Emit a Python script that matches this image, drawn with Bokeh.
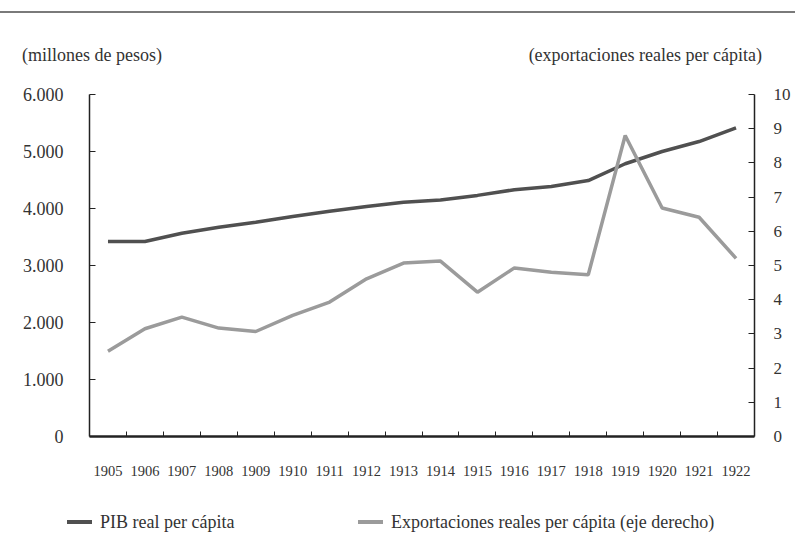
from bokeh.plotting import figure
from bokeh.layouts import column
from bokeh.models import Range1d, LinearAxis, FixedTicker, ColumnDataSource, Div
from bokeh.embed import file_html
from bokeh.resources import INLINE

years = list(range(1905, 1923))
pib = [3420, 3420, 3565, 3670, 3760, 3860, 3950, 4035, 4110, 4150,
       4230, 4330, 4385, 4490, 4785, 5000, 5175, 5415]
exports = [2.49, 3.15, 3.49, 3.17, 3.07, 3.54, 3.93, 4.61, 5.07, 5.13,
           4.22, 4.93, 4.80, 4.73, 8.80, 6.68, 6.41, 5.21]
left_ticks = [0, 1000, 2000, 3000, 4000, 5000, 6000]
left_tick_labels = ["0", "1.000", "2.000", "3.000", "4.000", "5.000", "6.000"]
right_ticks = [0, 1, 2, 3, 4, 5, 6, 7, 8, 9, 10]
series_names = ["PIB real per cápita", "Exportaciones reales per cápita (eje derecho)"]
left_title = "(millones de pesos)"
right_title = "(exportaciones reales per cápita)"

FONT = "Liberation Serif"
TXT = "#333333"
DARK = "#505050"
LIGHT = "#9b9b9b"
W, H = 795, 535
TOP_H = 70
FL, FR, FT, FB = 89, 41, 24, 56
FH = 342
MAIN_H = FT + FH + FB
LEG_H = H - TOP_H - MAIN_H

# ---- header: rule + axis titles
title_y = 55 - 11  # top of a 22px-high line box centred at y=55
header = Div(width=W, height=TOP_H, margin=0, text=(
    f'<div style="position:relative;width:{W}px;height:{TOP_H}px;'
    f'font-family:\'{FONT}\';color:{TXT};font-size:18px;line-height:22px;">'
    f'<div style="position:absolute;left:0;top:10.5px;width:{W}px;height:2.5px;background:#7a7a7a;"></div>'
    f'<div style="position:absolute;left:22px;top:{title_y}px;white-space:nowrap;">{left_title}</div>'
    f'<div style="position:absolute;right:{W - 762}px;top:{title_y}px;white-space:nowrap;">{right_title}</div>'
    f'</div>'))

# ---- main chart
src = ColumnDataSource(dict(year=years, pib=pib, exp=exports))
p = figure(width=W, height=MAIN_H, output_backend="svg", toolbar_location=None,
           x_range=Range1d(years[0] - 0.5, years[-1] + 0.5),
           y_range=Range1d(0, 6000),
           min_border_left=FL, min_border_right=FR, min_border_top=FT, min_border_bottom=FB)
p.outline_line_color = None
p.grid.visible = False
p.extra_y_ranges = {"right": Range1d(0, 10)}

xa = p.xaxis[0]
xa.ticker = FixedTicker(ticks=years, minor_ticks=[y + 0.5 for y in years[:-1]])
xa.major_tick_in = 0
xa.major_tick_out = 0
xa.minor_tick_in = 5
xa.minor_tick_out = 0
xa.minor_tick_line_color = "#222222"
xa.axis_line_width = 2.5
xa.axis_line_color = "#222222"
xa.major_label_standoff = 29
xa.major_label_text_font = FONT
xa.major_label_text_font_size = "14.5px"
xa.major_label_text_color = TXT

ya = p.yaxis[0]
ya.ticker = FixedTicker(ticks=left_ticks, minor_ticks=[])
ya.major_label_overrides = {t: l for t, l in zip(left_ticks, left_tick_labels)}
ya.major_tick_in = 6
ya.major_tick_out = 0
ya.major_tick_line_color = "#222222"
ya.axis_line_width = 1.5
ya.axis_line_color = "#222222"
ya.major_label_standoff = 26
ya.major_label_text_font = FONT
ya.major_label_text_font_size = "18px"
ya.major_label_text_color = TXT

ra = LinearAxis(y_range_name="right", ticker=FixedTicker(ticks=right_ticks, minor_ticks=[]))
ra.major_tick_in = 6
ra.major_tick_out = 0
ra.major_tick_line_color = "#222222"
ra.axis_line_width = 1.5
ra.axis_line_color = "#222222"
ra.major_label_standoff = 19
ra.major_label_text_font = FONT
ra.major_label_text_font_size = "17px"
ra.major_label_text_color = TXT
p.add_layout(ra, "right")

p.line("year", "pib", source=src, line_color=DARK, line_width=3.5)
p.line("year", "exp", source=src, line_color=LIGHT, line_width=3.5, y_range_name="right")

# ---- legend strip
leg_c = 522 - (TOP_H + MAIN_H)  # centre line of the legend inside the strip
items = ""
for (x0, col, name) in [(67, DARK, series_names[0]), (358, LIGHT, series_names[1])]:
    items += (f'<div style="position:absolute;left:{x0}px;top:{leg_c - 1.75}px;width:25px;'
              f'height:3.5px;background:{col};"></div>'
              f'<div style="position:absolute;left:{x0 + 33}px;top:{leg_c - 11}px;'
              f'white-space:nowrap;">{name}</div>')
legend = Div(width=W, height=LEG_H, margin=0, text=(
    f'<div style="position:relative;width:{W}px;height:{LEG_H}px;'
    f'font-family:\'{FONT}\';color:{TXT};font-size:18px;line-height:22px;">{items}</div>'))

layout = column(header, p, legend, spacing=0)
open("out.html", "w").write(file_html(layout, INLINE))
